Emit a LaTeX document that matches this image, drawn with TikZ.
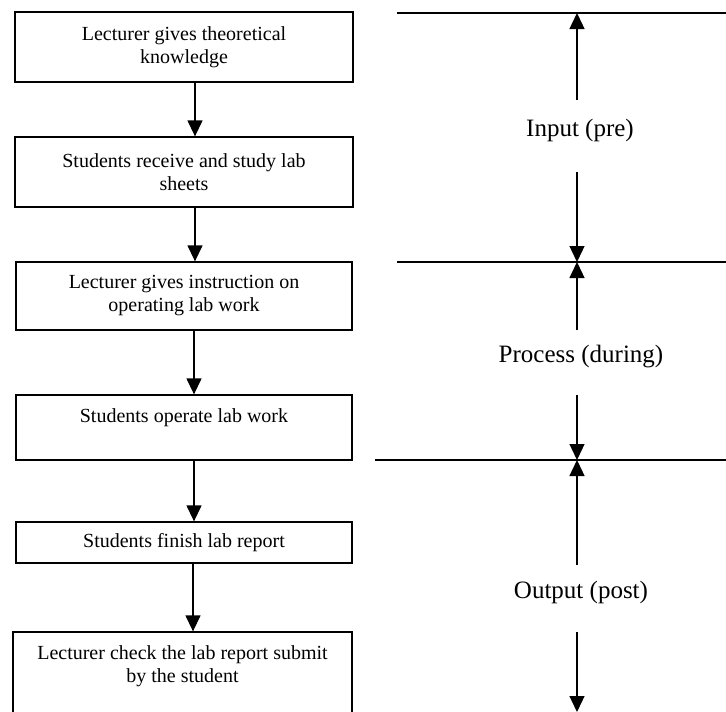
\documentclass[tikz,border=0pt]{standalone}
\usepackage{fontspec}
\setmainfont{Liberation Serif}
\usetikzlibrary{arrows.meta}
\begin{document}
\begin{tikzpicture}[x=1pt,y=-1pt,
  box/.style={draw,line width=1.3pt,rectangle,align=center,inner sep=0pt,
    font=\fontsize{20}{23}\selectfont},
  lbl/.style={font=\fontsize{25}{30}\selectfont,inner sep=0pt},
  arr/.style={line width=1.3pt,-{Triangle[width=15pt,length=16pt]}},
  rule/.style={line width=1.5pt}]
\useasboundingbox (0,0) rectangle (726,712);
\clip (0,0) rectangle (726,712);
% left flow
\node[box,minimum width=338pt,minimum height=70pt] (b1) at (184,47)
  {Lecturer gives theoretical\\knowledge};
\node[box,minimum width=338pt,minimum height=70pt] (b2) at (184,172)
  {Students receive and study lab\\sheets};
\node[box,minimum width=336pt,minimum height=68pt] (b3) at (184,296)
  {Lecturer gives instruction on\\operating lab work};
\node[box,minimum width=336pt,minimum height=65pt] (b4) at (184,427.5)
  {Students operate lab work\\\mbox{}};
\node[box,minimum width=336pt,minimum height=41pt] (b5) at (184,542.5)
  {Students finish lab report};
\node[box,minimum width=339pt,minimum height=110pt] (b6) at (182.5,687)
  {Lecturer check the lab report submit\\by the student\\\mbox{}\\\mbox{}};
\draw[arr] ([xshift=11pt]b1.south) -- ([xshift=11pt]b2.north);
\draw[arr] ([xshift=11pt]b2.south) -- ([xshift=11pt]b3.north);
\draw[arr] ([xshift=10pt]b3.south) -- ([xshift=10pt]b4.north);
\draw[arr] ([xshift=10pt]b4.south) -- ([xshift=10pt]b5.north);
\draw[arr] ([xshift=9pt]b5.south) -- ([xshift=10.5pt]b6.north);
% right side rules
\coordinate (h1s) at (397,13);  \coordinate (h1e) at (726,13);
\coordinate (h2s) at (397,262); \coordinate (h2e) at (726,262);
\coordinate (h3s) at (375,460); \coordinate (h3e) at (726,460);
\draw[rule] (h1s) -- (h1e);
\draw[rule] (h2s) -- (h2e);
\draw[rule] (h3s) -- (h3e);
\coordinate (t1) at (577,13);
\coordinate (t2) at (577,262);
\coordinate (t3) at (577,460);
\coordinate (t4) at (577,712);
% labels
\node[lbl] (inp) at (580,130) {Input (pre)};
\node[lbl] (pro) at (581,357) {Process (during)};
\node[lbl] (out) at (581,592) {Output (post)};
\coordinate (i1) at (577,100); \coordinate (i2) at (577,172);
\coordinate (p1) at (577,330); \coordinate (p2) at (577,395);
\coordinate (o1) at (577,565); \coordinate (o2) at (577,632);
\draw[arr] (i1) -- (t1);
\draw[arr] (i2) -- (t2);
\draw[arr] (p1) -- (t2);
\draw[arr] (p2) -- (t3);
\draw[arr] (o1) -- (t3);
\draw[arr] (o2) -- (t4);
\end{tikzpicture}
\end{document}
